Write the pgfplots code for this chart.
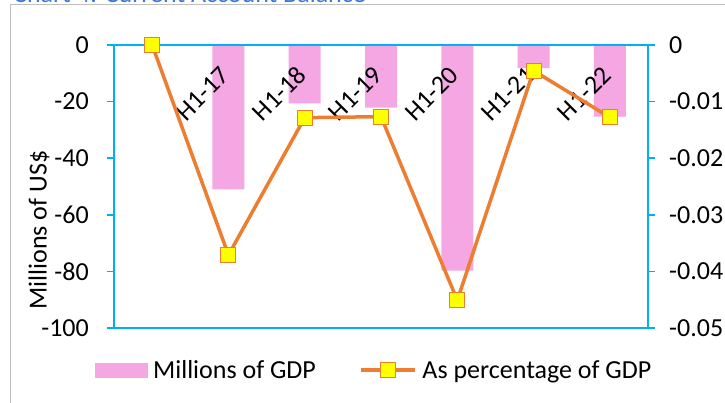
\documentclass[border=0pt]{standalone}
\usepackage{pgfplots}
\pgfplotsset{compat=1.18}
\usepackage{fontspec}
\setmainfont{Carlito}
\definecolor{axblue}{HTML}{00B0F0}
\definecolor{barpink}{HTML}{F4A7E3}
\definecolor{lineorange}{HTML}{ED7D31}
\definecolor{mkyellow}{HTML}{FFFF00}
\definecolor{titleblue}{HTML}{3C78D8}
\definecolor{framegrey}{HTML}{BFBFBF}
\pgfplotsset{
  mylineleg/.style={legend image code/.code={\draw[mark repeat=2, mark phase=2, ##1] plot coordinates {(0pt,0pt) (27pt,0pt) (54pt,0pt)};}},
  mybarleg/.style={legend image code/.code={\fill[barpink] (0pt,-7pt) rectangle (52pt,7pt);}},
}
\begin{document}
\begin{tikzpicture}[font=\fontsize{26pt}{31pt}\selectfont]
\useasboundingbox (0,0) rectangle (725pt,402pt);
\draw[color=framegrey, line width=1pt] (10pt,-20pt) -- (10pt,397pt) -- (760pt,397pt);
\node[anchor=base west, text=titleblue, inner sep=0pt] at (13pt,399pt) {Chart 4: Current Account Balance};
\begin{axis}[
  at={(114pt,74pt)}, anchor=south west, width=534pt, height=283pt, scale only axis,
  xmin=-0.5, xmax=6.5, ymin=-100, ymax=0,
  ybar, bar width=32pt,
  axis line style={draw=axblue, line width=1.5pt},
  ytick={-100,-80,-60,-40,-20,0}, yticklabels={-100,-80,-60,-40,-20,0},
  ytick pos=left, tick align=outside, major tick length=7pt,
  ytick style={draw=axblue, line width=1.5pt},
  xtick=\empty,
  yticklabel style={anchor=east, inner sep=0pt, xshift=-18pt},
  ylabel={Millions of US\$},
  ylabel style={at={(axis description cs:-0.1404,0.346)}, anchor=center},
]
\addplot[fill=barpink, draw=none] coordinates {(0,0) (1,-51) (2,-20.6) (3,-22.1) (4,-79.7) (5,-8.2) (6,-25.3)};
\end{axis}
\begin{axis}[
  at={(114pt,74pt)}, anchor=south west, width=534pt, height=283pt, scale only axis,
  xmin=-0.5, xmax=6.5, ymin=-0.05, ymax=0,
  clip=false,
  axis line style={draw=axblue, line width=1.5pt},
  xtick={1,2,3,4,5,6}, xticklabels={H1-17,H1-18,H1-19,H1-20,H1-21,H1-22},
  xticklabel pos=upper, xtick style={draw=none},
  xticklabel style={xshift=-3pt, yshift=-33pt, rotate=45, anchor=east, inner sep=0pt},
  ytick={-0.05,-0.04,-0.03,-0.02,-0.01,0}, yticklabels={-0.05,-0.04,-0.03,-0.02,-0.01,0},
  ytick pos=right, yticklabel pos=right, tick align=outside, major tick length=7pt,
  ytick style={draw=axblue, line width=1.5pt},
  yticklabel style={anchor=west, inner sep=0pt, xshift=14pt},
  scaled y ticks=false,
  legend columns=2,
  legend style={at={(axis description cs:0.485,-0.148)}, anchor=center, draw=none, fill=none,
    nodes={inner sep=0pt},
    /tikz/every even column/.append style={column sep=43pt},
    /tikz/every odd column/.append style={column sep=6pt}},
]
\addlegendimage{mybarleg}
\addlegendentry{Millions of GDP}
\addplot[color=lineorange, line width=3.5pt, mark=square*, mark size=7.5pt,
  mark options={fill=mkyellow, draw=lineorange, line width=1pt}, mylineleg]
  coordinates {(0,0) (1,-0.0371) (2,-0.01284) (3,-0.01266) (4,-0.0451) (5,-0.00454) (6,-0.01278)};
\addlegendentry{As percentage of GDP}
\end{axis}
\end{tikzpicture}
\end{document}
